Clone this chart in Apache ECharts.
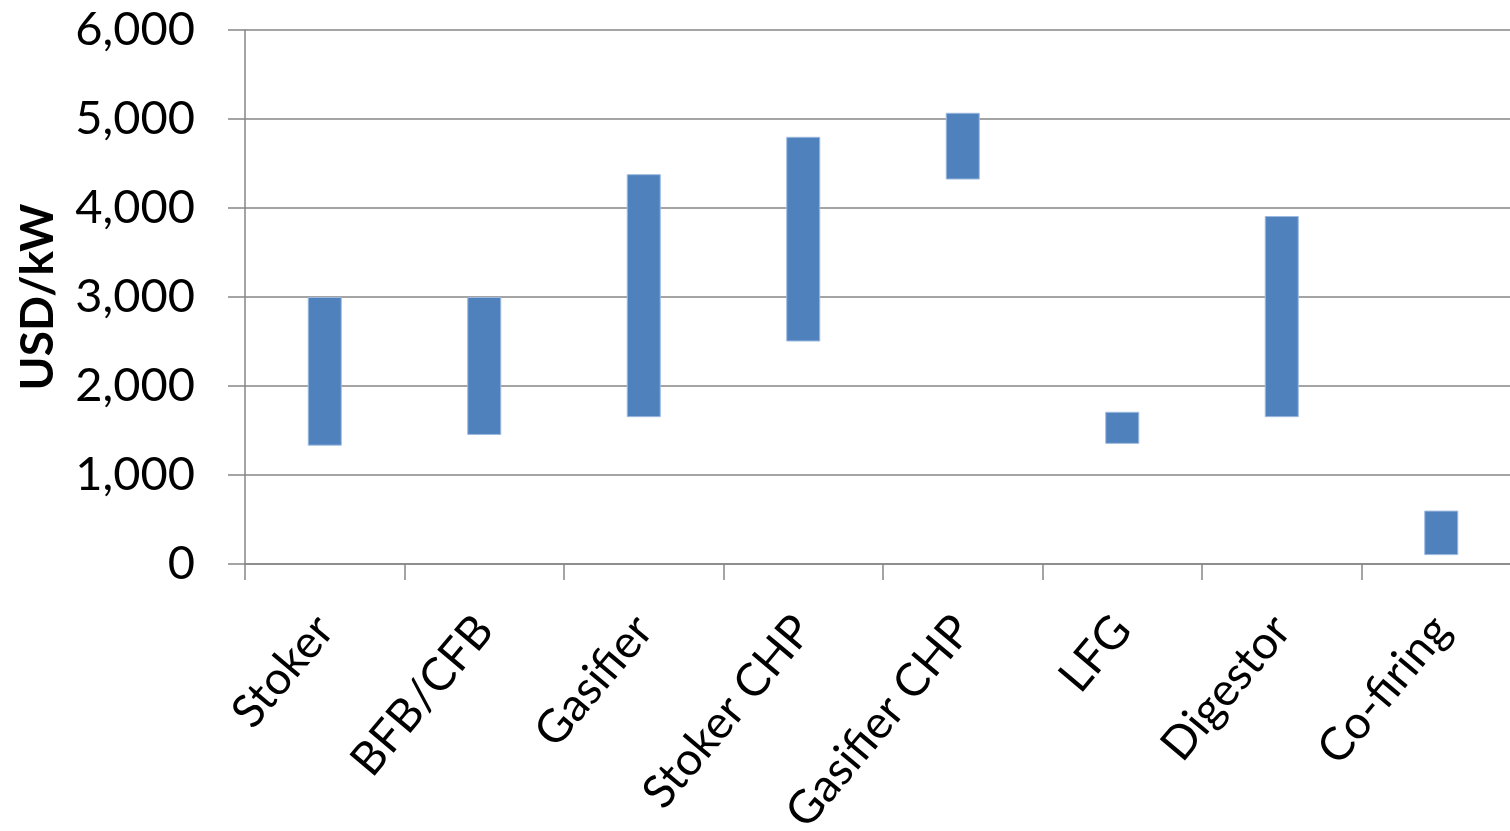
<!DOCTYPE html>
<html>
<head>
<meta charset="utf-8">
<title>Biomass power capital cost ranges</title>
<script src="https://cdn.jsdelivr.net/npm/echarts@6/dist/echarts.min.js"></script>
<style>
  html, body { margin: 0; padding: 0; background: #ffffff; overflow: hidden; }
  /* the plot area runs slightly past the right edge of the window */
  #chart { width: 1521px; height: 831px; }
</style>
</head>
<body>
<div id="chart"></div>
<script>
// Technology categories
const categories = ['Stoker', 'BFB/CFB', 'Gasifier', 'Stoker CHP', 'Gasifier CHP', 'LFG', 'Digestor', 'Co-firing'];
// Capital cost range per technology, USD/kW
const costLow  = [1330, 1450, 1650, 2500, 4320, 1350, 1650, 100];
const costHigh = [3000, 3000, 4380, 4800, 5070, 1710, 3910, 600];
// Value axis ticks
const yTicks = [0, 1000, 2000, 3000, 4000, 5000, 6000];

// Floating bars: an invisible base up to the low value, then the visible span
const spans = costHigh.map((h, i) => h - costLow[i]);

const font = 'Lato, "Open Sans", sans-serif';
const axisGrey = '#868686';

const chart = echarts.init(document.getElementById('chart'), null, { renderer: 'canvas' });
chart.setOption({
  animation: false,
  backgroundColor: '#ffffff',
  grid: { left: 245, right: 0, top: 30, bottom: 267, containLabel: false, outerBoundsMode: 'none' },
  xAxis: {
    type: 'category',
    data: categories,
    boundaryGap: true,
    axisLine: { show: true, lineStyle: { color: axisGrey, width: 1.5 } },
    axisTick: { show: true, length: 16, alignWithLabel: false, lineStyle: { color: axisGrey, width: 1.5 } },
    axisLabel: {
      interval: 0,
      rotate: 50,
      margin: 58,
      color: '#000000',
      fontFamily: font,
      fontSize: 46
    }
  },
  yAxis: {
    type: 'value',
    min: yTicks[0],
    max: yTicks[yTicks.length - 1],
    interval: 1000,
    name: 'USD/kW',
    nameLocation: 'middle',
    nameGap: 184,
    nameTextStyle: { color: '#000000', fontFamily: font, fontSize: 46, fontWeight: 'bold' },
    axisLine: { show: true, lineStyle: { color: axisGrey, width: 1.5 } },
    axisTick: { show: true, length: 17, lineStyle: { color: axisGrey, width: 1.5 } },
    splitLine: { show: true, lineStyle: { color: axisGrey, width: 1.5 } },
    axisLabel: {
      margin: 50,
      color: '#000000',
      fontFamily: font,
      fontSize: 47,
      formatter: v => v.toLocaleString('en-US')
    }
  },
  series: [
    {
      name: 'base',
      type: 'bar',
      stack: 'range',
      data: costLow,
      barWidth: 34,
      itemStyle: { color: 'transparent' },
      emphasis: { disabled: true },
      silent: true
    },
    {
      name: 'range',
      type: 'bar',
      stack: 'range',
      data: spans,
      barWidth: 34,
      itemStyle: { color: '#4F81BD', borderColor: '#9DB9DF', borderWidth: 1 }
    }
  ]
});
</script>
</body>
</html>
